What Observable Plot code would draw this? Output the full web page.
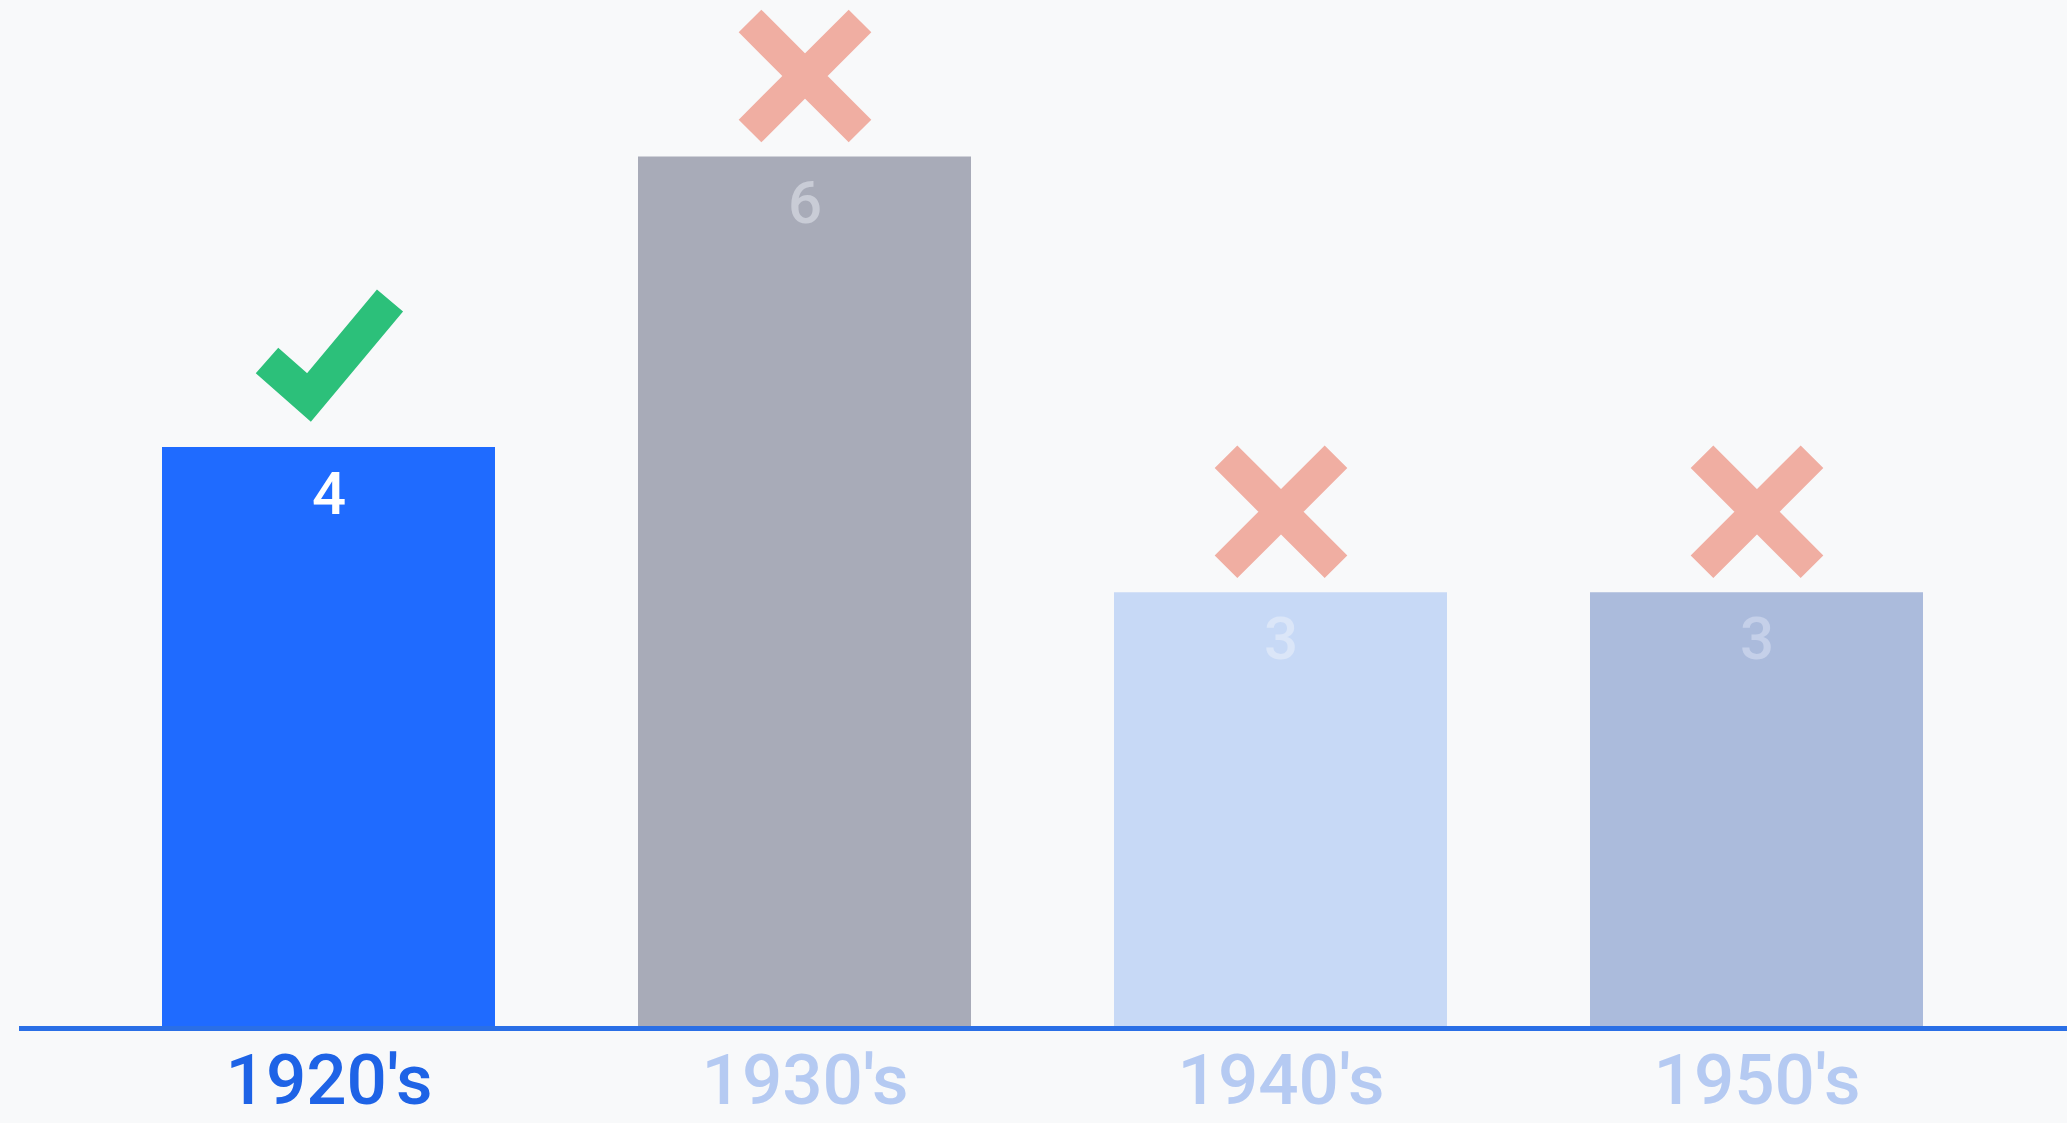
<!DOCTYPE html>
<html>
<head>
<meta charset="utf-8">
<script src="https://cdn.jsdelivr.net/npm/d3@7"></script>
<script src="https://cdn.jsdelivr.net/npm/@observablehq/plot@0.6"></script>
<style>
  html, body { margin: 0; padding: 0; background: #f8f9fa; }
  #chart { width: 2067px; height: 1123px; overflow: hidden; }
</style>
</head>
<body>
<div id="chart"></div>
<script>
const decades = ["1920's", "1930's", "1940's", "1950's"];
const counts = [4, 6, 3, 3];
const verdicts = ["check", "cross", "cross", "cross"];
const barColors = ["#1f6bff", "#a8abb8", "#c7d9f6", "#abbbdc"];
const valueColors = ["#ffffff", "#c9ccd6", "#dbe6f8", "#c5d0e9"];
const labelColors = ["#1e63e6", "#b5caf2", "#b5caf2", "#b5caf2"];

const data = decades.map((decade, i) => ({
  decade, count: counts[i], verdict: verdicts[i],
  barColor: barColors[i], valueColor: valueColors[i], labelColor: labelColors[i]
}));

const checkSymbol = {
  draw(context) {
    context.moveTo(-62, 5);
    context.lineTo(-20, 42);
    context.lineTo(61, -55);
  }
};
const crossSymbol = {
  draw(context) {
    const a = 55;
    context.moveTo(-a, -a);
    context.lineTo(a, a);
    context.moveTo(a, -a);
    context.lineTo(-a, a);
  }
};

const chart = Plot.plot({
  width: 2067,
  height: 1123,
  marginLeft: 19,
  marginRight: 0,
  marginTop: 156.5,
  marginBottom: 95,
  x: { domain: decades, padding: 0.3, axis: null },
  y: { domain: [0, 6], axis: null },
  color: { type: "identity" },
  style: { background: "#f8f9fa", fontFamily: "Roboto, 'Noto Sans', sans-serif", overflow: "visible" },
  marks: [
    Plot.barY(data, { x: "decade", y: "count", fill: "barColor" }),
    Plot.ruleY([0], { stroke: "#2a6fe6", strokeWidth: 5 }),
    Plot.text(data, {
      x: "decade", y: "count", text: d => String(d.count), dy: 47,
      fill: "valueColor", fontSize: 60, fontWeight: 500, lineAnchor: "middle"
    }),
    Plot.text(data, {
      x: "decade", y: () => 0, text: "decade", dy: 53,
      fill: "labelColor", fontSize: 71, fontWeight: 500, lineAnchor: "middle"
    }),
    Plot.dot(data.filter(d => d.verdict === "check"), {
      x: "decade", y: "count", dy: -92, symbol: checkSymbol,
      fill: "none", stroke: "#2cc07a", strokeWidth: 34, strokeLinecap: "butt", strokeLinejoin: "miter"
    }),
    Plot.dot(data.filter(d => d.verdict === "cross"), {
      x: "decade", y: "count", dy: -81, symbol: crossSymbol,
      fill: "none", stroke: "#f0aea2", strokeWidth: 32, strokeLinecap: "butt"
    })
  ]
});
document.getElementById("chart").appendChild(chart);
</script>
</body>
</html>
